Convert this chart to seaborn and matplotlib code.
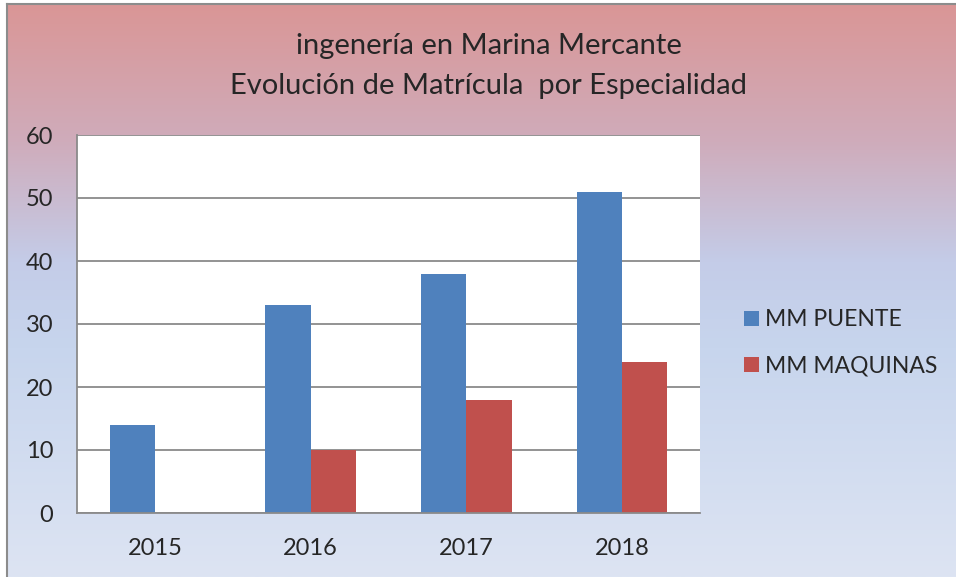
import numpy as np
import pandas as pd
import seaborn as sns
import matplotlib.pyplot as plt
from matplotlib.colors import LinearSegmentedColormap

# datos
anios = ["2015", "2016", "2017", "2018"]
mm_puente = [14, 33, 38, 51]
mm_maquinas = [0, 10, 18, 24]
series = ["MM PUENTE", "MM MAQUINAS"]
colores = ["#4f81bd", "#c0504d"]

df = pd.DataFrame({
    "anio": anios * 2,
    "matricula": mm_puente + mm_maquinas,
    "serie": [series[0]] * 4 + [series[1]] * 4,
})

sns.set_style("white")
plt.rcParams["font.family"] = ["Lato", "DejaVu Sans"]

W, H = 956, 577
fig = plt.figure(figsize=(W / 100, H / 100), dpi=100)
fig.patch.set_facecolor("white")

# fondo degradado del grafico
bg = fig.add_axes([7 / W, 0, 1 - 7 / W, 1 - 4 / H], zorder=-5)
cmap = LinearSegmentedColormap.from_list("fondo", [
    (0.0, (218 / 255, 150 / 255, 150 / 255)),
    (0.24, (207 / 255, 172 / 255, 187 / 255)),
    (0.45, (196 / 255, 204 / 255, 232 / 255)),
    (0.6, (199 / 255, 213 / 255, 237 / 255)),
    (1.0, (221 / 255, 228 / 255, 243 / 255)),
])
grad = np.linspace(0, 1, 256).reshape(-1, 1)
bg.imshow(grad, aspect="auto", cmap=cmap, extent=[0, 1, 0, 1], origin="upper")
bg.set_xticks([])
bg.set_yticks([])
for s in ["right", "bottom"]:
    bg.spines[s].set_visible(False)
for s in ["left", "top"]:
    bg.spines[s].set_color("#8c8c8c")
    bg.spines[s].set_linewidth(1.5)

ax = fig.add_axes([77 / W, (H - 513) / H, (700 - 77) / W, (513 - 135) / H])
ax.set_facecolor("white")
sns.barplot(data=df, x="anio", y="matricula", hue="serie", palette=colores,
            width=0.58, ax=ax, saturation=1, legend=True, linewidth=0)

ax.set_ylim(0, 60)
ax.set_yticks(range(0, 61, 10))
ax.set_xlim(-0.5, 3.5)
ax.grid(axis="y", color="#8a8a8a", linewidth=1.3)
ax.set_axisbelow(True)
for s in ["top", "right"]:
    ax.spines[s].set_visible(False)
for s in ["left", "bottom"]:
    ax.spines[s].set_color("#8a8a8a")
    ax.spines[s].set_linewidth(1.3)
ax.tick_params(axis="y", length=0, pad=17, labelsize=17)
ax.tick_params(axis="x", length=0, pad=18, labelsize=17)
ax.set_xlabel("")
ax.set_ylabel("")

handles, labels = ax.get_legend_handles_labels()
ax.get_legend().remove()
fig.legend(handles, labels, loc="center left", bbox_to_anchor=(723 / W, 1 - 343 / H),
           frameon=False, fontsize=16.5, handlelength=0.65, handleheight=0.65,
           handletextpad=0.3, labelspacing=1.1)

fig.text(489 / W, 1 - 46 / H, "ingenería en Marina Mercante", ha="center", va="center",
         fontsize=21)
fig.text(489 / W, 1 - 86 / H, "Evolución de Matrícula  por Especialidad", ha="center",
         va="center", fontsize=21)

plt.savefig("out.png", dpi=100)
